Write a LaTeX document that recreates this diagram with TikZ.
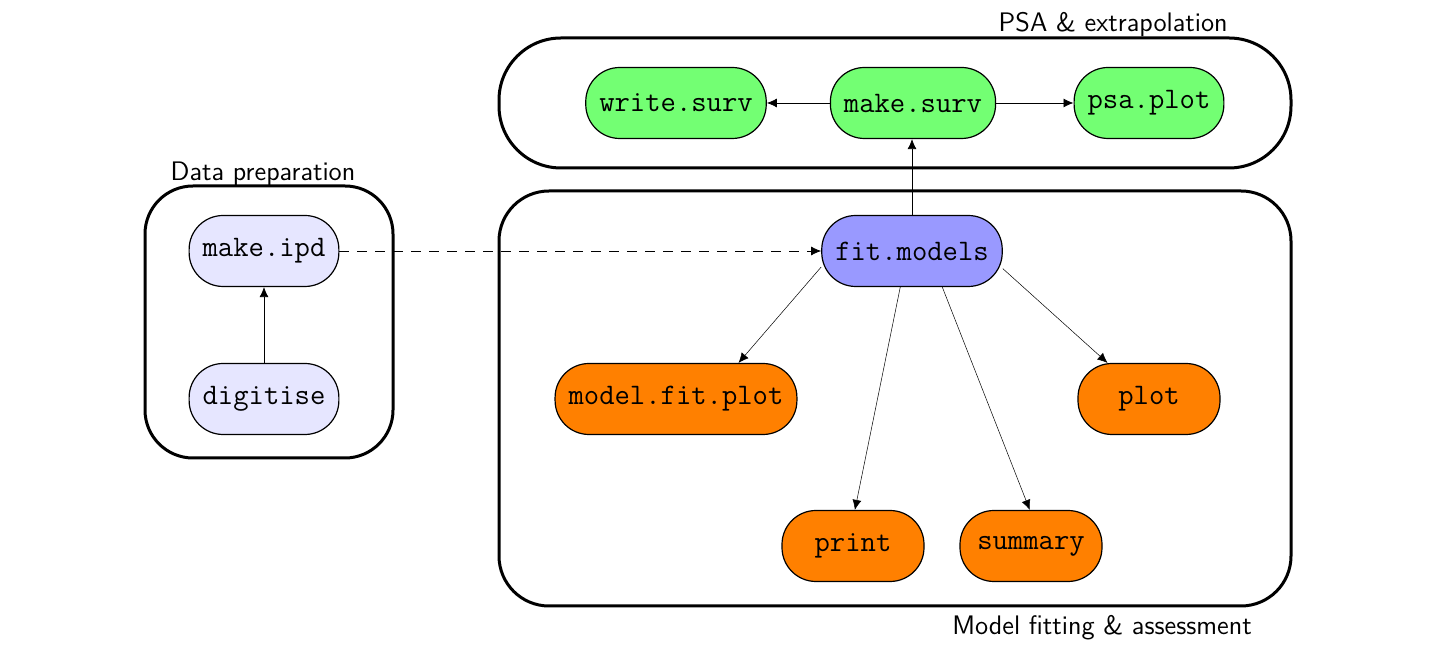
\documentclass[tikz,border=0pt]{standalone}
\usetikzlibrary{arrows.meta}
\definecolor{prepfill}{RGB}{230,230,255}
\definecolor{fitfill}{RGB}{153,153,255}
\definecolor{psafill}{RGB}{115,255,115}
\definecolor{outfill}{RGB}{255,128,0}
\begin{document}
\begin{tikzpicture}[x=0.5pt,y=-0.5pt,
  fn/.style={draw, line width=0.6pt, rounded corners=17pt, minimum height=35.5pt,
    minimum width=71pt, inner xsep=6.75pt, inner ysep=0pt,
    font=\fontsize{14.9}{17}\selectfont\ttfamily},
  grp/.style={draw, line width=1.5pt, inner sep=0pt},
  lbl/.style={inner sep=0pt, font=\fontsize{13.4}{15}\selectfont\sffamily},
  arr/.style={-{Latex[length=5pt,width=4.5pt]}, line width=0.4pt},
  tarr/.style={-{Latex[length=5pt,width=4.5pt]}, line width=0.25pt},
]
\useasboundingbox (0,0) rectangle (1436,656);
% group boxes
\node[grp, rounded corners=24pt, minimum width=124pt, minimum height=136pt] (gprep) at (269,322) {};
\node[grp, rounded corners=31pt, minimum width=396pt, minimum height=65pt] (gpsa) at (895,103) {};
\node[grp, rounded corners=25pt, minimum width=396pt, minimum height=207.5pt] (gfit) at (895,398.5) {};
% labels
\node[lbl] (lprep) at (263,173.5) {Data preparation};
\node[lbl, anchor=east] (lpsa) at (1228,24.5) {PSA \& extrapolation};
\node[lbl] (lfit) at (1102,628) {Model fitting \& assessment};
% nodes
\node[fn, fill=prepfill] (mipd) at (264,251) {make.ipd};
\node[fn, fill=prepfill] (dig) at (264,399) {digitise};
\node[fn, fill=psafill] (wsurv) at (676,103) {write.surv};
\node[fn, fill=psafill] (msurv) at (913,103) {make.surv};
\node[fn, fill=psafill] (psap) at (1149,103) {psa.plot};
\node[fn, fill=fitfill] (fitm) at (912,251) {fit.models};
\node[fn, fill=outfill] (mfp) at (676,399) {model.fit.plot};
\node[fn, fill=outfill] (plt) at (1149,399) {plot};
\node[fn, fill=outfill] (prt) at (853,546) {print};
\node[fn, fill=outfill] (smry) at (1031,546) {summary};
% edges
\draw[arr] (dig) -- (mipd);
\draw[arr, dash pattern=on 5pt off 4pt] (mipd.east) -- (fitm.west);
\draw[arr] (fitm.north) -- (fitm.north |- msurv.south);
\draw[arr] (msurv.west) -- (wsurv.east);
\draw[arr] (msurv.east) -- (psap.west);
\draw[tarr] (fitm.190.7) -- (mfp.30.3);
\draw[tarr] (fitm.252) -- (prt.87);
\draw[tarr] (fitm.310) -- (smry.92);
\draw[tarr] (fitm.349.6) -- (plt.139.8);
\end{tikzpicture}
\end{document}
